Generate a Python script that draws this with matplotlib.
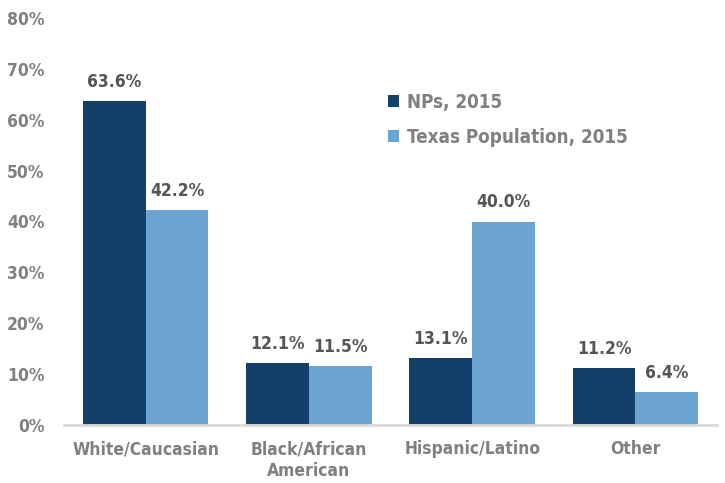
import matplotlib
matplotlib.use("Agg")
import matplotlib.pyplot as plt
import numpy as np

categories = ["White/Caucasian", "Black/African\nAmerican", "Hispanic/Latino", "Other"]
nps_2015 = [63.6, 12.1, 13.1, 11.2]
texas_2015 = [42.2, 11.5, 40.0, 6.4]
series_names = ["NPs, 2015", "Texas Population, 2015"]
yticks = [0, 10, 20, 30, 40, 50, 60, 70, 80]

dark = "#143f6a"
light = "#6ba3d1"
font = {"family": "DejaVu Sans", "stretch": "condensed", "weight": "bold"}

fig = plt.figure(figsize=(7.25, 4.83), dpi=100)
ax = fig.add_axes([64 / 725, 1 - 425 / 483, 653 / 725, (425 - 18) / 483])

x = np.arange(len(categories))
w = 0.384
b1 = ax.bar(x - w / 2, nps_2015, w, color=dark, label=series_names[0])
b2 = ax.bar(x + w / 2, texas_2015, w, color=light, label=series_names[1])

for bars, vals in ((b1, nps_2015), (b2, texas_2015)):
    for r, v in zip(bars, vals):
        ax.text(r.get_x() + r.get_width() / 2, v + 2.0, f"{v:.1f}%", ha="center",
                va="bottom", fontsize=12.5, color="#555555", **font)

ax.set_xlim(-0.5, len(categories) - 0.5)
ax.set_ylim(0, 80)
ax.set_yticks(yticks)
ax.set_yticklabels([f"{t}%" for t in yticks], fontsize=12.5, color="#808080", **font)
ax.set_xticks(x)
ax.set_xticklabels(categories, fontsize=12.5, color="#808080", linespacing=1.3, **font)
ax.tick_params(axis="both", length=0)
ax.tick_params(axis="y", pad=14)
ax.tick_params(axis="x", pad=11)
for s in ["top", "right", "left"]:
    ax.spines[s].set_visible(False)
ax.spines["bottom"].set_color("#d9d9d9")
ax.spines["bottom"].set_linewidth(2)

leg = ax.legend(loc="upper left", bbox_to_anchor=(0.47, 0.858), frameon=False,
                prop={"family": "DejaVu Sans", "stretch": "condensed", "weight": "bold",
                      "size": 13.5},
                handlelength=0.6, handleheight=0.6, handletextpad=0.45, labelspacing=0.85)
for t in leg.get_texts():
    t.set_color("#808080")

fig.savefig("out.png", dpi=100)
